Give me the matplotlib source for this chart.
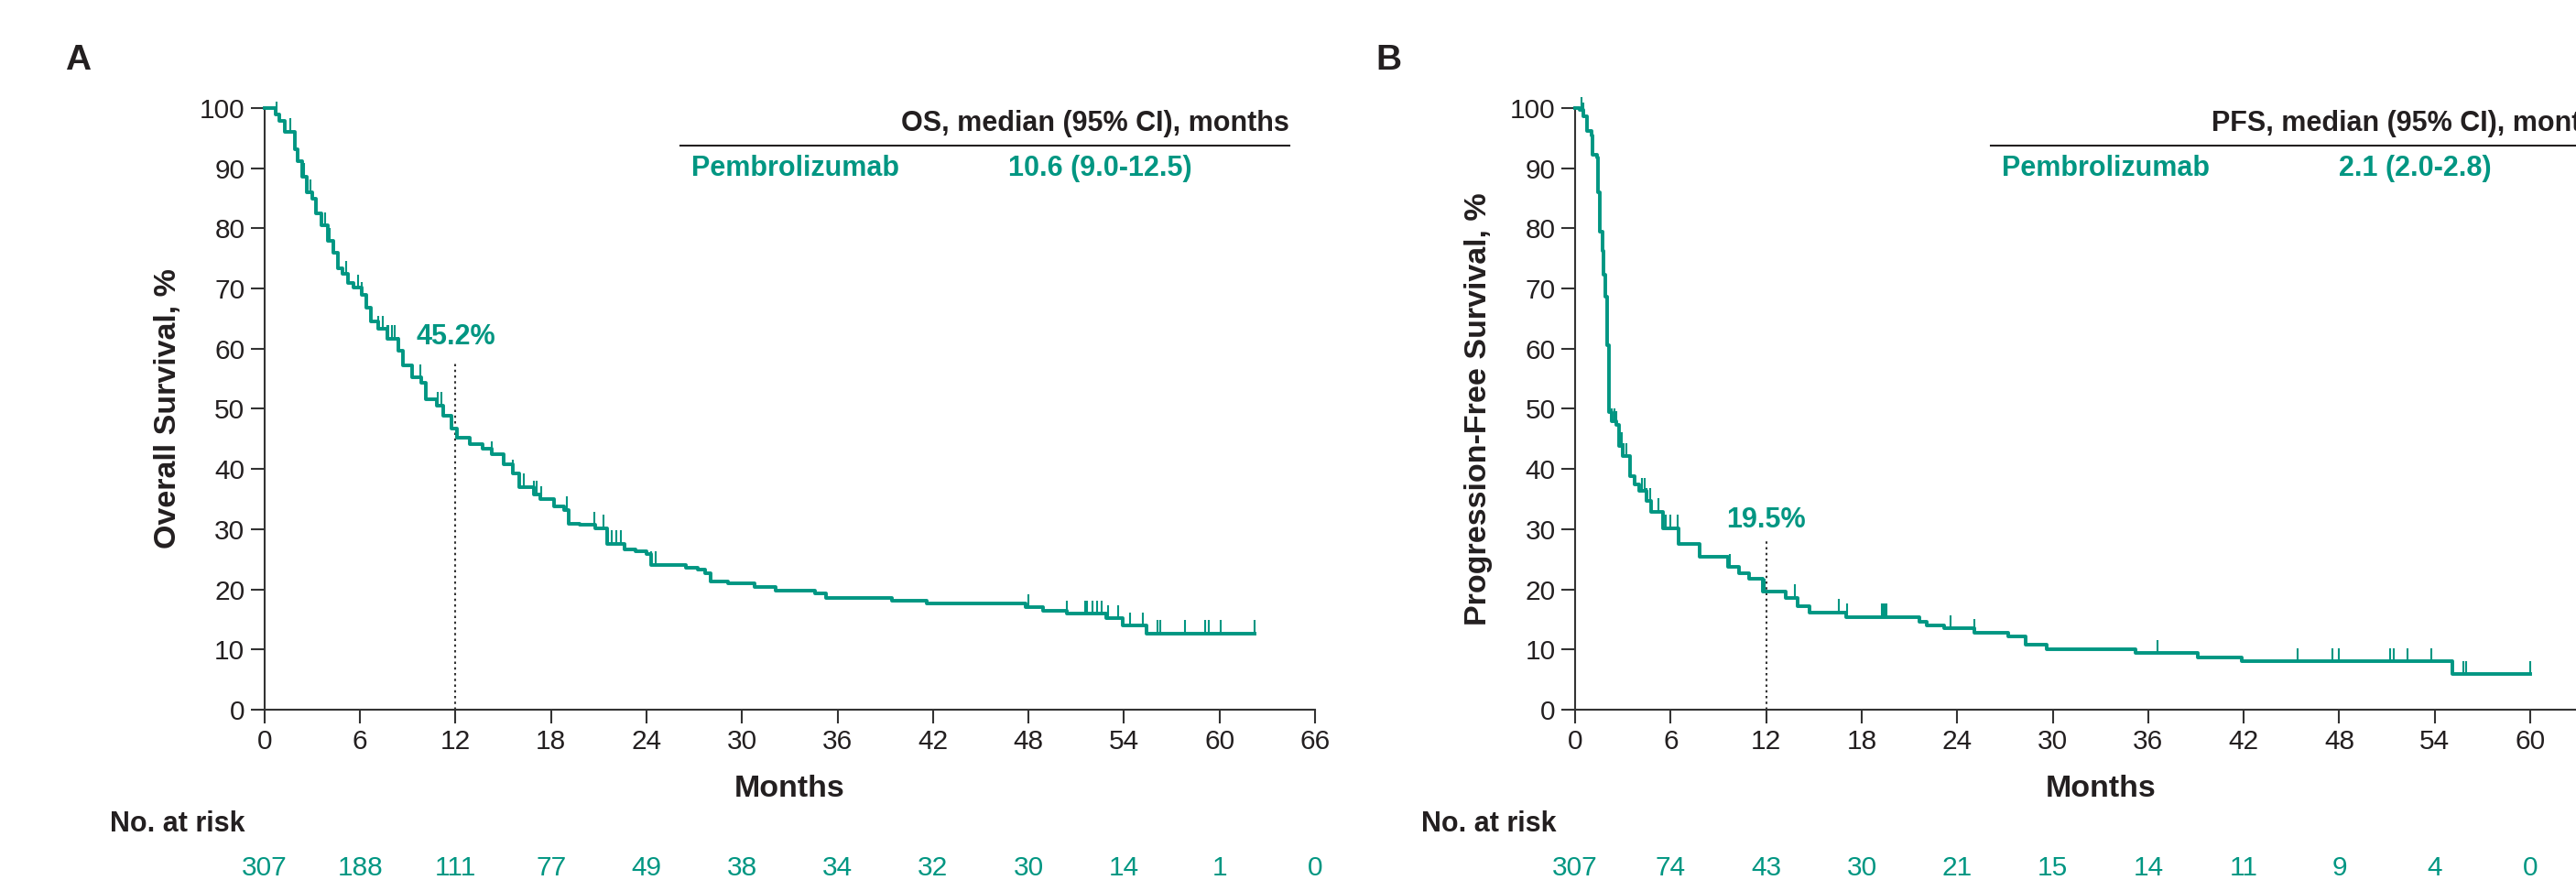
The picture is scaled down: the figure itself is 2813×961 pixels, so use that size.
import numpy as np
import matplotlib
matplotlib.use("Agg")
import matplotlib.pyplot as plt
import matplotlib.transforms as mtransforms

plt.rcParams['font.family'] = ['Liberation Sans', 'DejaVu Sans']

TEAL = '#009682'
DARK = '#231f20'

# OS (panel A): step times (months) and survival (%) after each step
os_t = [0, 0.7, 0.9, 1.3, 1.9, 2.1, 2.35, 2.65, 3.0, 3.2, 3.6, 4.0, 4.3, 4.6, 4.9,
        5.25, 5.6, 6.1, 6.4, 6.7, 7.15, 7.7, 8.4, 8.7, 9.25, 9.85, 10.15, 10.8, 11.2,
        11.75, 12.1, 12.9, 13.7, 14.25, 15.0, 15.6, 16.0, 16.9, 17.3, 18.2, 18.8, 19.1,
        19.8, 20.8, 21.5, 22.6, 23.3, 24.0, 24.3, 26.5, 27.2, 27.7, 28.05, 29.1, 30.8,
        32.1, 34.6, 35.3, 39.4, 41.6, 47.8, 48.9, 50.4, 52.9, 53.9, 55.4]
os_s = [100, 98.9, 97.9, 96.1, 93.1, 91.1, 88.6, 86.0, 85.0, 82.5, 80.5, 77.9, 75.9, 73.4,
        72.4, 70.9, 70.1, 68.9, 66.8, 64.5, 63.3, 61.7, 59.7, 57.2, 55.2, 54.4, 51.6, 50.6,
        48.8, 46.7, 45.2, 44.2, 43.4, 42.4, 40.8, 39.3, 37.0, 35.8, 35.0, 33.8, 33.2, 30.9,
        30.7, 30.2, 27.6, 26.6, 26.4, 25.9, 24.1, 23.6, 23.3, 22.6, 21.3, 21.0, 20.4, 19.8,
        19.3, 18.6, 18.1, 17.6, 17.0, 16.4, 15.9, 15.2, 14.0, 12.7]
os_end = 62.2
os_cens = [0.73, 1.6, 2.5, 2.7, 2.9, 3.2, 3.8, 4.1, 4.3, 5.1, 5.9, 6.1, 7.15, 7.4, 7.7, 7.8,
           8.0, 8.2, 8.4, 9.8, 10.9, 11.1, 14.3, 15.6, 16.3, 16.9, 17.1, 17.4, 19.0, 20.7,
           21.3, 21.6, 21.8, 22.1, 22.4, 24.3, 24.6, 48.0, 50.4, 51.55, 51.7, 52.0, 52.3,
           52.6, 53.0, 53.6, 54.4, 55.2, 56.1, 56.25, 57.8, 59.1, 59.3, 60.1, 62.2]
os_risk = [307, 188, 111, 77, 49, 38, 34, 32, 30, 14, 1, 0]

# PFS (panel B)
pfs_t = [0, 0.3, 0.5, 0.75, 1.05, 1.1, 1.35, 1.45, 1.55, 1.7, 1.8, 1.9, 2.0, 2.1, 2.3,
         2.6, 2.77, 2.97, 3.44, 3.73, 4.02, 4.5, 4.75, 5.5, 6.5, 7.8, 9.6, 10.3, 10.9,
         11.77, 13.2, 13.97, 14.74, 17.03, 21.6, 22.1, 23.15, 25.1, 27.2, 28.3, 29.6,
         35.2, 39.1, 41.9, 55.1]
pfs_s = [100, 99.7, 98.7, 96.2, 95.4, 92.3, 91.8, 86.0, 79.4, 76.3, 72.3, 68.7, 60.6, 49.5,
         47.9, 47.4, 43.9, 42.1, 38.8, 37.5, 36.3, 34.7, 32.9, 30.2, 27.5, 25.4, 23.7, 22.6,
         21.8, 19.6, 18.6, 17.2, 16.2, 15.4, 14.6, 14.0, 13.5, 12.8, 12.2, 10.8, 10.0, 9.4,
         8.6, 8.0, 5.9]
pfs_end = 60.0
pfs_cens = [0.38, 0.5, 2.3, 2.47, 2.6, 2.87, 2.95, 3.05, 3.2, 4.2, 4.35, 4.5, 4.7, 5.2, 5.5,
            5.7, 6.0, 6.46, 7.8, 9.7, 11.9, 13.8, 16.55, 17.1, 19.25, 19.35, 19.45, 19.55,
            23.6, 25.1, 36.6, 45.4, 47.6, 48.0, 51.2, 51.4, 52.3, 53.8, 55.8, 56.0, 60.0]
pfs_risk = [307, 74, 43, 30, 21, 15, 14, 11, 9, 4, 0]

x_ticks = list(range(0, 67, 6))
y_ticks = list(range(0, 101, 10))


def km_panel(ax, t, s, t_end, cens, risk, ylabel, letter, hdr, median, landmark, lm_top, lm_text_y):
    t = np.array(t + [t_end])
    s = np.array(s + [s[-1]])
    ax.plot(t, s, drawstyle='steps-post', color=TEAL, lw=2.8, clip_on=False, zorder=3)
    # censor marks, drawn upward from the curve
    c = np.array(cens)
    idx = np.searchsorted(t, c, side='right') - 1
    cs = s[idx]
    ax.vlines(c, cs, cs + 2.2, color=TEAL, lw=1.5, clip_on=False, zorder=3)

    ax.set_xlim(0, 66)
    ax.set_ylim(0, 100)
    ax.set_xticks(x_ticks)
    if letter == 'B':
        # the 66 label falls past the right edge of the figure
        ax.set_xticklabels([str(v) if v < 66 else '' for v in x_ticks])
    ax.set_yticks(y_ticks)
    for sp in ['top', 'right']:
        ax.spines[sp].set_visible(False)
    for sp in ['left', 'bottom']:
        ax.spines[sp].set_linewidth(1.5)
        ax.spines[sp].set_color('#333333')
    ax.tick_params(direction='out', length=10.5, width=1.5, color='#333333',
                   labelsize=21.5, labelcolor=DARK, pad=5)

    ax.set_ylabel(ylabel, fontsize=24.5, fontweight='bold', color=DARK, va='center')
    ax.yaxis.set_label_coords(-0.092, 0.5)
    ax.text(0.5, -0.131, 'Months', transform=ax.transAxes, ha='center', va='center',
            fontsize=24.5, fontweight='bold', color=DARK)
    ax.text(-0.178, 1.079, letter, transform=ax.transAxes, ha='center', va='center',
            fontsize=28, fontweight='bold', color=DARK)

    # median table
    ax.text(40.0, 97.4, hdr, ha='left', va='center', fontsize=22, fontweight='bold', color=DARK)
    ax.plot([26.1, 64.4 if letter == 'A' else 70], [93.8, 93.8], color=DARK, lw=1.5,
            clip_on=False)
    ax.text(26.8, 90.0, 'Pembrolizumab', ha='left', va='center', fontsize=22,
            fontweight='bold', color=TEAL)
    ax.text(46.7 if letter == 'A' else 48.0, 90.0, median, ha='left', va='center',
            fontsize=22, fontweight='bold', color=TEAL)

    # 12-month landmark
    ax.plot([12, 12], [0, lm_top], color='#333333', lw=1.5, linestyle=(0, (1.2, 1.8)), zorder=2)
    ax.text(12, lm_text_y, landmark, ha='center', va='center', fontsize=22,
            fontweight='bold', color=TEAL)

    # number at risk
    ax.text(-0.147, -0.19, 'No. at risk', transform=ax.transAxes, ha='left', va='center',
            fontsize=22, fontweight='bold', color=DARK)
    trans = mtransforms.blended_transform_factory(ax.transData, ax.transAxes)
    for i, n in enumerate(risk):
        ax.text(x_ticks[i], -0.263, str(n), transform=trans, ha='center', va='center',
                fontsize=21.5, color=TEAL)


fig = plt.figure(figsize=(28.13, 9.61), dpi=100)
axA = fig.add_axes([0.1027, 0.1936, 0.4078, 0.6836])
axB = fig.add_axes([0.6115, 0.1936, 0.4078, 0.6836])

km_panel(axA, os_t, os_s, os_end, os_cens, os_risk, 'Overall Survival, %', 'A',
         'OS, median (95% CI), months', '10.6 (9.0-12.5)', '45.2%', 57.7, 62.0)
km_panel(axB, pfs_t, pfs_s, pfs_end, pfs_cens, pfs_risk, 'Progression-Free Survival, %', 'B',
         'PFS, median (95% CI), months', '2.1 (2.0-2.8)', '19.5%', 28.0, 31.5)

fig.savefig('out.png', dpi=100)
